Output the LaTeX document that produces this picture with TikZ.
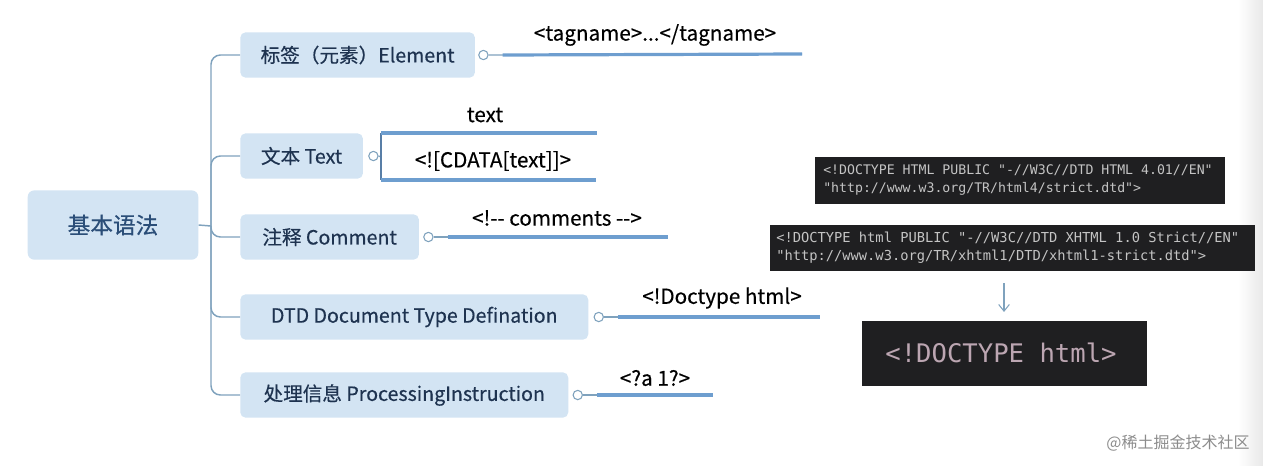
\documentclass[tikz,border=0pt]{standalone}
\usepackage{fontspec}
\setmainfont{Noto Sans CJK SC}
\newfontfamily\cjk{Noto Sans CJK SC}
\newfontfamily\cjkmed[FakeBold=0.4]{Noto Sans CJK SC}
\newfontfamily\monofnt{DejaVu Sans Mono}
\usetikzlibrary{calc,arrows.meta}
\definecolor{boxfill}{HTML}{D3E4F3}
\definecolor{boxtext}{HTML}{1E3350}
\definecolor{roottext}{HTML}{2B4E78}
\definecolor{trunkc}{HTML}{7FA2BD}
\definecolor{leafc}{HTML}{6E9ECF}
\definecolor{darkbg}{HTML}{1F1F21}
\definecolor{codegray}{HTML}{C4C4C4}
\definecolor{codemauve}{HTML}{BCA6B2}
\tikzset{
  rootbox/.style={fill=boxfill, rounded corners=5pt, minimum width=128pt, minimum height=52pt, text=roottext, font=\cjkmed\fontsize{17}{20}\selectfont, inner sep=0pt},
  childbox/.style={fill=boxfill, rounded corners=4pt, minimum height=34pt, text=boxtext, font=\cjkmed\fontsize{14.7}{17}\selectfont, inner sep=0pt, anchor=west},
  circ/.style={circle, draw=trunkc, fill=white, line width=0.8pt, minimum size=7pt, inner sep=0pt, anchor=west},
  trunk/.style={draw=trunkc, line width=1.1pt, rounded corners=7pt},
  thinleaf/.style={draw=trunkc, line width=1pt},
  leaf/.style={draw=leafc, line width=2.4pt},
  bracket/.style={draw=leafc!80!black, line width=1.3pt},
  leaflabel/.style={font=\cjkmed\fontsize{15.5}{18}\selectfont, text=black, inner sep=0pt},
  codetext/.style={font=\monofnt\fontsize{9.9}{14}\selectfont, text=codegray, align=left, inner sep=0pt, anchor=west},
}
\begin{document}
\begin{tikzpicture}[x=0.75pt,y=-0.75pt]
\useasboundingbox (0,0) rectangle (1263,465);
\shade[left color=white, right color=black!9] (1238,0) rectangle (1263,465);

% root
\node[rootbox] (root) at (113,225) {基本语法};
\coordinate (j) at (211,226);

% children
\node[childbox, minimum width=176pt] (c1) at (240,55) {标签（元素）Element};
\node[childbox, minimum width=92pt]  (c2) at (240,156) {文本 Text};
\node[childbox, minimum width=134pt] (c3) at (240,237) {注释 Comment};
\node[childbox, minimum width=261pt] (c4) at (240,317) {DTD Document Type Defination};
\node[childbox, minimum width=246pt] (c5) at (240,395) {处理信息 ProcessingInstruction};

% trunk
\draw[trunk] (root.east) -- (j);
\foreach \c in {c1,c2,c3,c4,c5}{\draw[trunk] (j) |- (\c.west);}

% circles
\node[circ] (k1) at ($(c1.east)+(3,0)$) {};
\node[circ] (k2) at ($(c2.east)+(5,0)$) {};
\node[circ] (k3) at ($(c3.east)+(4,0)$) {};
\node[circ] (k4) at ($(c4.east)+(5,0)$) {};
\node[circ] (k5) at ($(c5.east)+(4,0)$) {};

% leaves: Element
\coordinate (e1) at (802,54);
\draw[thinleaf] (k1.east) -- (e1);
\draw[leaf] ($(k1.east)+(14,0)$) -- (e1);
\node[leaflabel] (l1) at (655,35) {<tagname>...</tagname>};

% leaves: Text
\coordinate (bm) at (381,157);
\coordinate (bt) at (381,133);
\coordinate (bb) at (381,180);
\coordinate (t1) at (597,133);
\coordinate (t2) at (596,180);
\draw[thinleaf] (k2.east) -- (bm);
\draw[bracket] (bt) -- (bb);
\draw[leaf] (bt) -- (t1);
\draw[leaf] (bb) -- (t2);
\node[leaflabel] (l2a) at (485,115) {text};
\node[leaflabel] (l2b) at (493,161) {<![CDATA[text]]>};

% leaves: Comment
\coordinate (e3) at (668,237);
\draw[thinleaf] (k3.east) -- (e3);
\draw[leaf] ($(k3.east)+(14,0)$) -- (e3);
\node[leaflabel] (l3) at (557,218) {<!-{}- comments -{}->};

% leaves: DTD
\coordinate (e4) at (820,317);
\draw[thinleaf] (k4.east) -- (e4);
\draw[leaf] ($(k4.east)+(14,0)$) -- (e4);
\node[leaflabel] (l4) at (722,298) {<!Doctype html>};

% leaves: PI
\coordinate (e5) at (713,395);
\draw[thinleaf] (k5.east) -- (e5);
\draw[leaf] ($(k5.east)+(14,0)$) -- (e5);
\node[leaflabel] (l5) at (655,378) {<?a 1?>};

% code boxes
\fill[darkbg] (815,157) rectangle (1225,204);
\node[codetext] (ca1) at (823,170) {<!DOCTYPE HTML PUBLIC "-//W3C//DTD HTML 4.01//EN"};
\node[codetext] (ca2) at (823,189) {"http://www.w3.org/TR/html4/strict.dtd">};

\fill[darkbg] (770,225) rectangle (1255,271);
\node[codetext, font=\monofnt\fontsize{10.3}{14}\selectfont] (cb1) at (776,238) {<!DOCTYPE html PUBLIC "-//W3C//DTD XHTML 1.0 Strict//EN"};
\node[codetext, font=\monofnt\fontsize{10.3}{14}\selectfont] (cb2) at (776,257) {"http://www.w3.org/TR/xhtml1/DTD/xhtml1-strict.dtd">};

\coordinate (a1) at (1004,283);
\coordinate (a2) at (1004,312);
\draw[draw=trunkc, line width=0.8pt, -{Straight Barb[length=5pt,width=8pt]}] (a1) -- (a2);

\node[fill=darkbg, minimum width=214pt, minimum height=49pt, inner sep=0pt] (cc) at (1004.5,353.5) {};
\node[font=\monofnt\fontsize{19.2}{22}\selectfont, text=codemauve, inner sep=0pt] (cct) at (1001,353) {<!DOCTYPE html>};

% watermark
\node[font=\cjk\fontsize{12}{14}\selectfont, text=black!45, inner sep=0pt] (wm) at (1178,443) {@稀土掘金技术社区};
\end{tikzpicture}
\end{document}
